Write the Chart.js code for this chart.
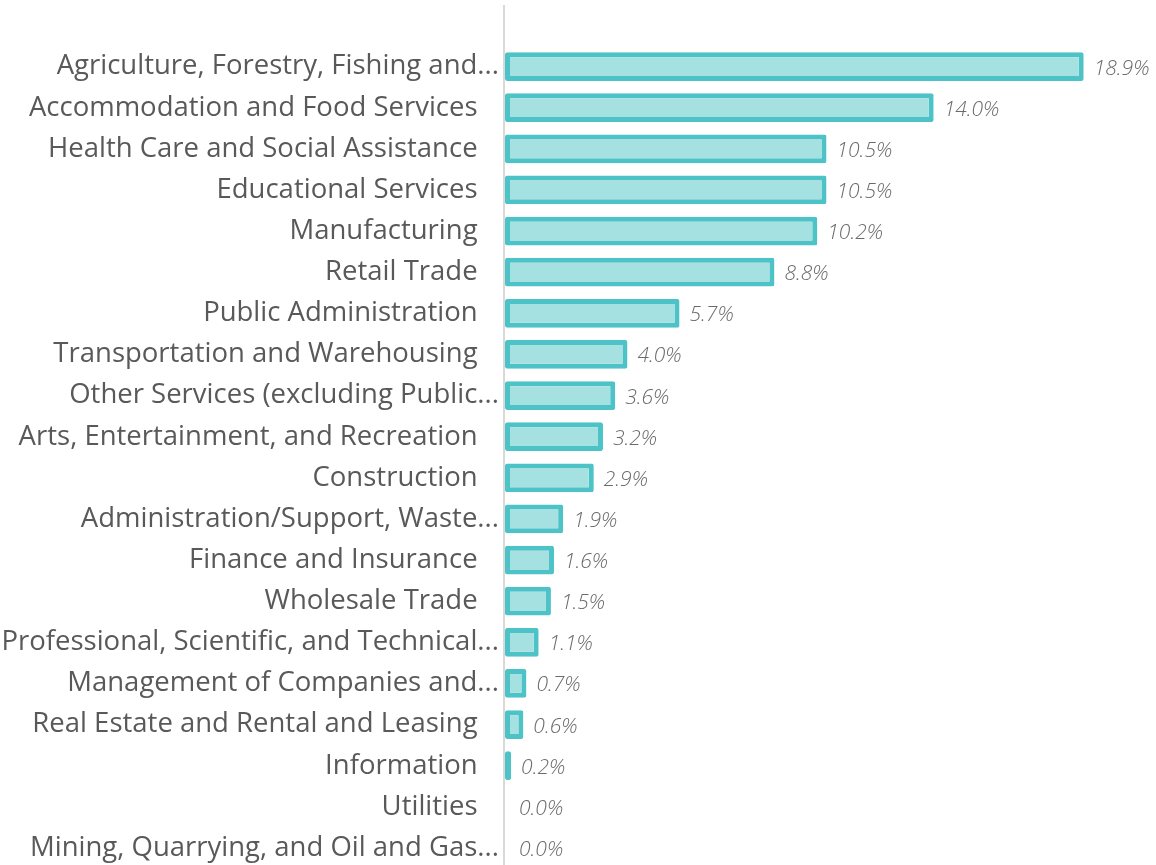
<!DOCTYPE html>
<html>
<head>
<meta charset="utf-8">
<script src="https://cdn.jsdelivr.net/npm/chart.js@4/dist/chart.umd.min.js"></script>
<style>
  html, body { margin: 0; padding: 0; background: #fff; overflow: hidden; }
  #wrap { position: relative; width: 1156px; height: 883px; }
</style>
</head>
<body>
<div id="wrap"><canvas id="chart"></canvas></div>
<script>
// Data
const industries = [
  'Agriculture, Forestry, Fishing and...',
  'Accommodation and Food Services',
  'Health Care and Social Assistance',
  'Educational Services',
  'Manufacturing',
  'Retail Trade',
  'Public Administration',
  'Transportation and Warehousing',
  'Other Services (excluding Public...',
  'Arts, Entertainment, and Recreation',
  'Construction',
  'Administration/Support, Waste...',
  'Finance and Insurance',
  'Wholesale Trade',
  'Professional, Scientific, and Technical...',
  'Management of Companies and...',
  'Real Estate and Rental and Leasing',
  'Information',
  'Utilities',
  'Mining, Quarrying, and Oil and Gas...'
];
const shares = [18.9, 14.0, 10.5, 10.5, 10.2, 8.8, 5.7, 4.0, 3.6, 3.2, 2.9, 1.9, 1.6, 1.5, 1.1, 0.7, 0.6, 0.2, 0.0, 0.0];
const axisMax = 21;

// value labels at bar ends
const valueLabels = {
  id: 'valueLabels',
  afterDatasetsDraw(chart) {
    const ctx = chart.ctx;
    const meta = chart.getDatasetMeta(0);
    ctx.save();
    ctx.font = 'italic 300 21px "Open Sans"';
    ctx.fillStyle = '#6a6a6a';
    ctx.textAlign = 'left';
    ctx.textBaseline = 'middle';
    meta.data.forEach((bar, i) => {
      const gap = shares[i] > 0 ? 10 : 14;
      ctx.fillText(shares[i].toFixed(1) + '%', bar.x + gap, bar.y + 2);
    });
    ctx.restore();
  }
};

// light vertical axis line, runs above the plot like the original
const axisLine = {
  id: 'axisLine',
  beforeDatasetsDraw(chart) {
    const ctx = chart.ctx;
    const x = chart.chartArea.left - 1;
    ctx.save();
    ctx.strokeStyle = '#d9d9d9';
    ctx.lineWidth = 2;
    ctx.beginPath();
    ctx.moveTo(x, 5);
    ctx.lineTo(x, chart.height);
    ctx.stroke();
    ctx.restore();
  }
};

new Chart(document.getElementById('chart'), {
  type: 'bar',
  data: {
    labels: industries,
    datasets: [{
      data: shares,
      backgroundColor: '#a6e1e2',
      borderColor: '#4dc3c7',
      borderWidth: 5,
      borderRadius: 2,
      borderSkipped: false,
      barPercentage: 0.7,
      categoryPercentage: 1
    }]
  },
  options: {
    indexAxis: 'y',
    responsive: true,
    maintainAspectRatio: false,
    animation: false,
    layout: { padding: { top: 46, right: 8, bottom: 0, left: 0 } },
    plugins: { legend: { display: false }, tooltip: { enabled: false } },
    scales: {
      x: { display: false, min: 0, max: axisMax },
      y: {
        grid: { display: false },
        border: { display: false },
        afterFit: s => { s.width = 505; },
        ticks: {
          padding: -2,
          color: '#595959',
          font: { family: '"Open Sans"', size: 27.5 },
          callback: function(v) {
            const t = this.getLabelForValue(v);
            return t.endsWith('...') ? t : t + '   ';
          }
        }
      }
    }
  },
  plugins: [axisLine, valueLabels]
});
</script>
</body>
</html>
